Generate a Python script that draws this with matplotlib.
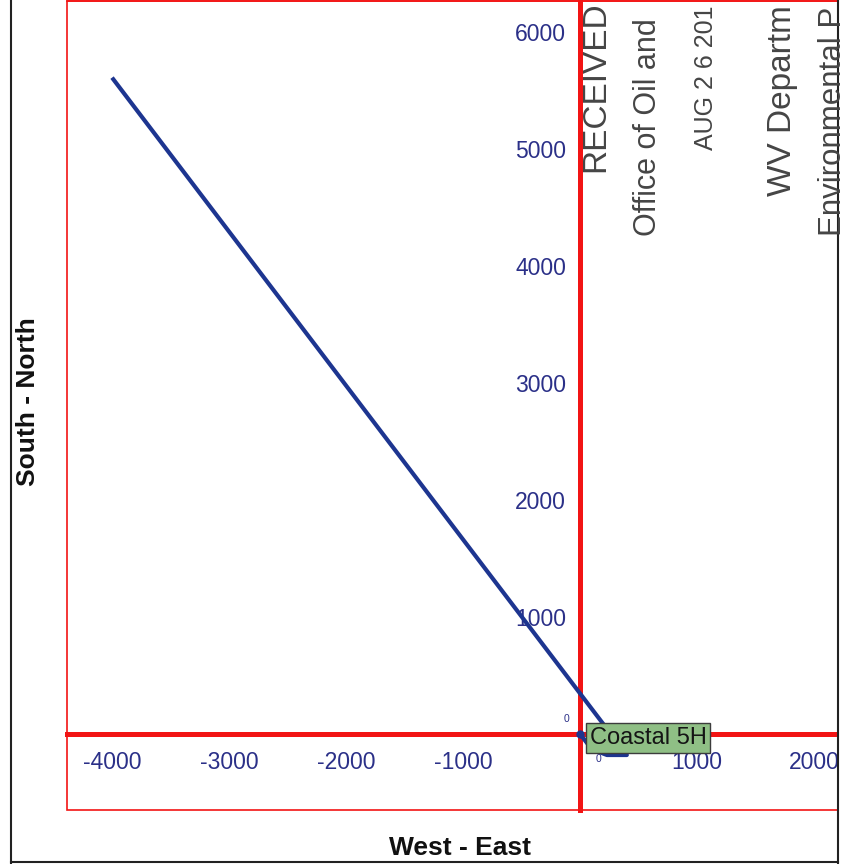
import matplotlib
matplotlib.use('Agg')
import matplotlib.pyplot as plt
from matplotlib.patches import Rectangle
from matplotlib.lines import Line2D

plt.rcParams['font.family'] = ['Liberation Sans', 'DejaVu Sans']
plt.rcParams['axes.unicode_minus'] = False

# well path (feet from surface location)
path_ew = [0, 100, 230, 400, -4000]
path_ns = [0, -130, -180, -180, 5610]
well_name = 'Coastal 5H'

x_ticks = [-4000, -3000, -2000, -1000, 1000, 2000]
y_ticks = [1000, 2000, 3000, 4000, 5000, 6000]
x_lim = (-4385, 2205)
y_lim = (-650, 6265)

# stamp text, as much as shows on the scanned page
stamp_lines = ['RECEIVED', 'Office of Oil and', 'AUG 2 6 201',
               'WV Departm', 'Environmental P']

W, H = 852, 864
navy = '#2b3088'
red = '#f21414'

fig = plt.figure(figsize=(W / 100, H / 100), dpi=100)
fig.patch.set_facecolor('white')
ax = fig.add_axes([67 / W, 1 - 810 / H, (838 - 67) / W, 809 / H])
ax.set_xlim(*x_lim)
ax.set_ylim(*y_lim)

# crosshair axes through the surface location
for side in ['left', 'bottom']:
    ax.spines[side].set_position(('data', 0))
    ax.spines[side].set_color(red)
    ax.spines[side].set_linewidth(3.6)
for side in ['top', 'right']:
    ax.spines[side].set_color(red)
    ax.spines[side].set_linewidth(1.2)
ax.add_patch(Rectangle((0, 0), 1, 1, transform=ax.transAxes, fill=False,
                       edgecolor=red, linewidth=1.2, clip_on=False, zorder=0))

ax.set_xticks(x_ticks)
ax.set_yticks(y_ticks)
ax.tick_params(length=0, labelsize=16.5, labelcolor=navy)
ax.tick_params(axis='x', pad=12)
ax.tick_params(axis='y', pad=10)

ax.plot(path_ew, path_ns, color='#1d3590', linewidth=3, solid_capstyle='butt',
        zorder=3)
ax.plot(path_ew[0], path_ns[0], 'o', color='#1d3590', markersize=5, zorder=4)
ax.annotate('0', xy=(0, 0), xytext=(-10, 11), textcoords='offset points',
            fontsize=7.5, color=navy, ha='center', va='center')
ax.annotate('0', xy=(path_ew[2], path_ns[2]), textcoords='offset points',
            xytext=(-6, -3), fontsize=7.5, color=navy, ha='center', va='center')
ax.annotate(well_name, xy=(0, 0), xytext=(7, -3), textcoords='offset points',
            fontsize=17, color='#151515', ha='left', va='center', zorder=5,
            bbox=dict(boxstyle='square,pad=0.16', facecolor='#8fbf85',
                      edgecolor='#3c3c3c', linewidth=1))

fig.text(460 / W, 1 - 848 / H, 'West - East', ha='center', va='center',
         fontsize=19, fontweight='bold', color='#111111')
fig.text(28 / W, 1 - 402 / H, 'South - North', ha='center', va='center',
         rotation=90, fontsize=19, fontweight='bold', color='#111111')

# page crop and frame
fig.add_artist(Rectangle((839 / W, 0), 13 / W, 1, transform=fig.transFigure,
                         facecolor='white', edgecolor='none', zorder=2))
frame = dict(color='#222222', linewidth=1.5, transform=fig.transFigure, zorder=2.5)
fig.add_artist(Line2D([11 / W, 11 / W], [0, 1], **frame))
fig.add_artist(Line2D([838 / W, 838 / W], [0, 1], **frame))
fig.add_artist(Line2D([11 / W, 838 / W], [1 - 862 / H, 1 - 862 / H], **frame))

# received stamp
stamp_x = [596, 648, 706, 782, 833]
stamp_y = [172, 236, 150, 196, 236]
stamp_size = [24, 22, 18, 24, 22.5]
for txt, sx, sy, fs in zip(stamp_lines, stamp_x, stamp_y, stamp_size):
    fig.text(sx / W, 1 - sy / H, txt, rotation=90, ha='center', va='bottom',
             fontsize=fs, color='#454545', zorder=4)

fig.savefig('out.png', dpi=100)
